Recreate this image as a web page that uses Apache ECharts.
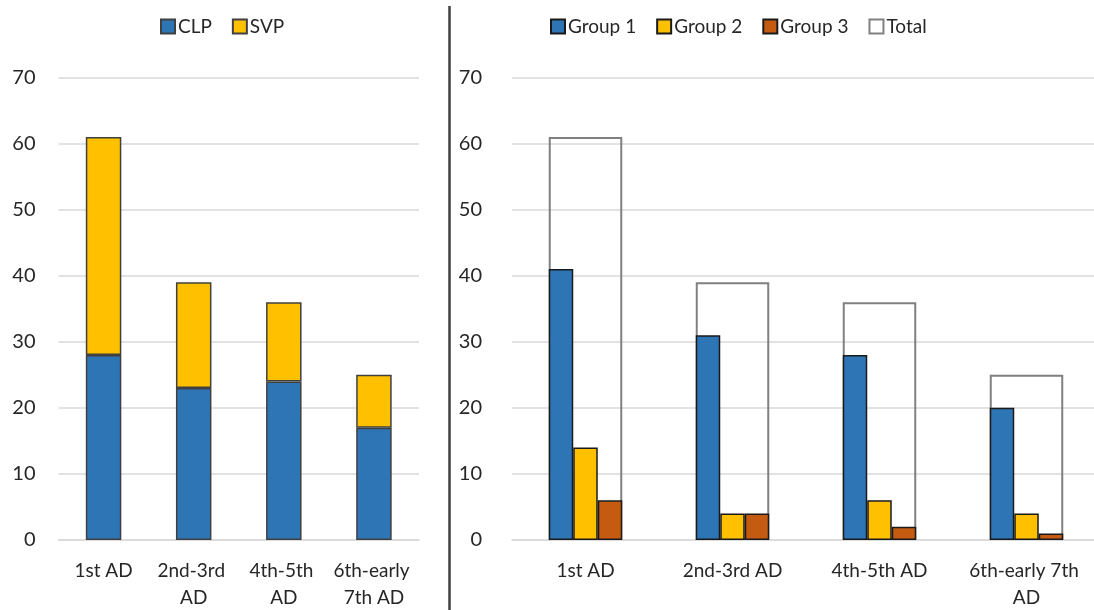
<!DOCTYPE html>
<html>
<head>
<meta charset="utf-8">
<script src="https://cdn.jsdelivr.net/npm/echarts@6/dist/echarts.min.js"></script>
<style>
  html, body { margin: 0; padding: 0; background: #fff; }
  #chart { width: 1094px; height: 610px; }
</style>
</head>
<body>
<div id="chart"></div>
<script>
// Periods shown on both panels
const categories = ['1st AD', '2nd-3rd AD', '4th-5th AD', '6th-early 7th AD'];

// Left panel: stacked counts
const clp = [28, 23, 24, 17];
const svp = [33, 16, 12, 8];

// Right panel: grouped counts with total outline
const group1 = [41, 31, 28, 20];
const group2 = [14, 4, 6, 4];
const group3 = [6, 4, 2, 1];
const total = [61, 39, 36, 25];

const yTicks = { min: 0, max: 70, interval: 10 };

const FONT = 'Lato';
const TEXT = '#262626';
const BLUE = '#2E75B6', GOLD = '#FFC000', RUST = '#C55A11';

const chart = echarts.init(document.getElementById('chart'), null, { renderer: 'canvas' });

function yAxis(gridIndex, margin) {
  return {
    type: 'value', gridIndex, min: yTicks.min, max: yTicks.max, interval: yTicks.interval,
    axisLine: { show: false }, axisTick: { show: false },
    axisLabel: { color: TEXT, fontFamily: FONT, fontSize: 20, margin },
    splitLine: { lineStyle: { color: '#d9d9d9', width: 1.5 } }
  };
}
function xAxis(gridIndex, width, show) {
  return {
    type: 'category', gridIndex, data: categories, show,
    axisLine: { show: true, lineStyle: { color: '#d9d9d9', width: 1.5 } },
    axisTick: { show: false },
    axisLabel: {
      color: TEXT, fontFamily: FONT, fontSize: 19, margin: 17, lineHeight: 27,
      width, overflow: 'break', interval: 0
    }
  };
}

const legendStyle = {
  top: 12, itemWidth: 14, itemHeight: 14, itemGap: 20, icon: 'rect',
  textStyle: { color: TEXT, fontFamily: FONT, fontSize: 19, padding: [0, 0, 0, -2] }
};

chart.setOption({
  animation: false,
  backgroundColor: '#fff',
  textStyle: { fontFamily: FONT },
  graphic: [{
    type: 'line', shape: { x1: 449.5, y1: 6, x2: 449.5, y2: 610 },
    style: { stroke: '#404040', lineWidth: 2.5 }
  }],
  legend: [
    Object.assign({ data: ['CLP', 'SVP'], left: 155 }, legendStyle),
    Object.assign({ data: ['Group 1', 'Group 2', 'Group 3', 'Total'], left: 545 }, legendStyle)
  ],
  grid: [
    { left: 58.5, width: 360.5, top: 77.5, bottom: 70, outerBoundsMode: 'none', containLabel: false },
    { left: 512, width: 588, top: 77.5, bottom: 70, outerBoundsMode: 'none', containLabel: false }
  ],
  xAxis: [xAxis(0, 88, true), xAxis(1, 132, true), xAxis(1, 132, false)],
  yAxis: [yAxis(0, 23), yAxis(1, 30)],
  series: [
    {
      name: 'CLP', type: 'bar', stack: 'left', xAxisIndex: 0, yAxisIndex: 0, data: clp,
      barWidth: 35.5,
      itemStyle: { color: BLUE, borderColor: '#404040', borderWidth: 1.5 }
    },
    {
      name: 'SVP', type: 'bar', stack: 'left', xAxisIndex: 0, yAxisIndex: 0, data: svp,
      barWidth: 35.5,
      itemStyle: { color: GOLD, borderColor: '#404040', borderWidth: 1.5 }
    },
    {
      name: 'Total', type: 'bar', xAxisIndex: 2, yAxisIndex: 1, data: total,
      barWidth: 73.5, z: 1,
      itemStyle: { color: 'rgba(255,255,255,0)', borderColor: '#808080', borderWidth: 2 }
    },
    {
      name: 'Group 1', type: 'bar', xAxisIndex: 1, yAxisIndex: 1, data: group1,
      barWidth: 24.5, barGap: '0%', z: 3,
      itemStyle: { color: BLUE, borderColor: '#1a1a1a', borderWidth: 1.5 }
    },
    {
      name: 'Group 2', type: 'bar', xAxisIndex: 1, yAxisIndex: 1, data: group2,
      barWidth: 24.5, barGap: '0%', z: 3,
      itemStyle: { color: GOLD, borderColor: '#1a1a1a', borderWidth: 1.5 }
    },
    {
      name: 'Group 3', type: 'bar', xAxisIndex: 1, yAxisIndex: 1, data: group3,
      barWidth: 24.5, barGap: '0%', z: 3,
      itemStyle: { color: RUST, borderColor: '#1a1a1a', borderWidth: 1.5 }
    }
  ]
});
</script>
</body>
</html>
